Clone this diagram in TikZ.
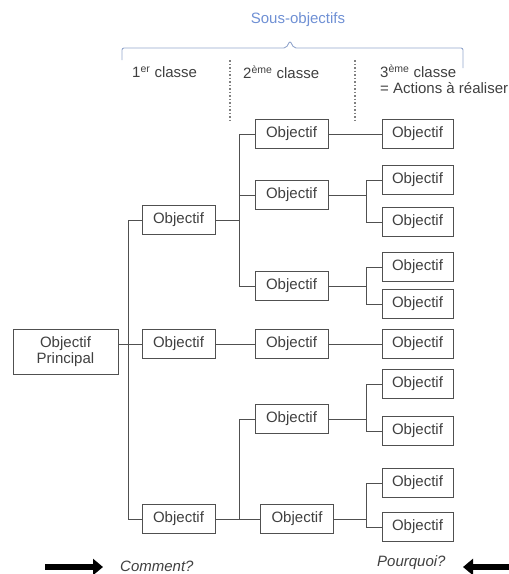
\documentclass[tikz,border=0pt]{standalone}
\usepackage{fontspec}
\setmainfont{Liberation Sans}
\usepackage{tikz}
\usetikzlibrary{arrows.meta}
\definecolor{boxgray}{HTML}{505050}
\definecolor{textgray}{HTML}{404040}
\definecolor{braceblue}{HTML}{93A6CC}
\definecolor{titleblue}{HTML}{6F90D4}
\tikzset{obj/.style={draw=boxgray, line width=0.9pt, text=textgray, minimum width=73pt, minimum height=29pt, inner sep=0pt}}
\tikzset{link/.style={draw=boxgray, line width=0.9pt}}
\tikzset{head/.style={anchor=west, inner sep=0pt, text=textgray}}
\tikzset{bigarrow/.style={line width=6pt, -{Triangle[length=10pt, width=16pt]}}}
\tikzset{dotline/.style={draw=gray, line width=1.5pt, dotted}}

\begin{document}
\begin{tikzpicture}[x=1pt, y=-1pt, font=\fontsize{15}{16}\selectfont]
    \useasboundingbox (0, 0) rectangle (509, 574);
    \node[text=titleblue] (sub) at (298, 20) {Sous-objectifs};
    \draw[braceblue, line width=0.9pt, rounded corners=2pt] (122, 60) -- (122, 48) -- (286, 48) -- (290, 41) -- (294, 48) -- (463, 48) -- (463, 68);
    \node[head] (k1) at (132, 72) {1\textsuperscript{er} classe};
    \node[head] (k2) at (243, 72) {2\textsuperscript{ème} classe};
    \node[head, align=left] (k3) at (380, 79) {3\textsuperscript{ème} classe\\= Actions à réaliser};
    \draw[dotline] (230, 60) -- (230, 120);
    \draw[dotline] (355, 60) -- (355, 122);
    \node[obj, minimum width=105pt, minimum height=45pt, align=center] (main) at (65.5, 352) {Objectif\\Principal};
    \node[obj] (c1a) at (178.5, 220) {Objectif};
    \node[obj] (c1b) at (178.5, 344) {Objectif};
    \node[obj] (c1c) at (178.5, 519) {Objectif};
    \node[obj] (c2a) at (291.5, 134) {Objectif};
    \node[obj] (c2b) at (291.5, 195) {Objectif};
    \node[obj] (c2c) at (291.5, 286) {Objectif};
    \node[obj] (c2d) at (291.5, 344) {Objectif};
    \node[obj] (c2e) at (291.5, 419) {Objectif};
    \node[obj] (c2f) at (297, 519) {Objectif};
    \foreach \n/\y in {1/134, 2/180, 3/222, 4/267, 5/304, 6/344, 7/384, 8/431, 9/483, 10/527} {
        \node[obj, minimum width=71pt] (c3\n) at (417.5, \y) {Objectif};
    }
    \coordinate (t1) at (128, 0);
    \coordinate (t2) at (239, 0);
    \coordinate (t3) at (366, 0);
    \draw[link] (main.east |- c1b) -- (c1b.west);
    \draw[link] (c1a.west) -| (t1 |- c1c) -- (c1c.west);
    \draw[link] (c1a.east) -- (t2 |- c1a);
    \draw[link] (c2a.west) -| (t2 |- c2c) -- (c2c.west);
    \draw[link] (c2b.west) -- (t2 |- c2b);
    \draw[link] (c1b.east) -- (c2d.west);
    \draw[link] (c1c.east) -- (c2f.west);
    \draw[link] (c2e.west) -| (t2 |- c2f);
    \draw[link] (c2a.east) -- (c31.west);
    \draw[link] (c2d.east) -- (c36.west);
    \foreach \p/\a/\b in {c2b/2/3, c2c/4/5, c2e/7/8, c2f/9/10} {
        \draw[link] (\p.east) -- (t3 |- \p);
        \draw[link] (c3\a.west) -| (t3 |- c3\b) -- (c3\b.west);
    }
    \coordinate (ca) at (45, 567);
    \coordinate (cb) at (103, 567);
    \coordinate (pa) at (509, 567);
    \coordinate (pb) at (463, 567);
    \draw[bigarrow] (ca) -- (cb);
    \draw[bigarrow] (pa) -- (pb);
    \node[head, font=\fontsize{15}{16}\selectfont\itshape] (how) at (120, 566) {Comment?};
    \node[head, font=\fontsize{15}{16}\selectfont\itshape] (why) at (377, 563) {Pourquoi?};
\end{tikzpicture}
\end{document}
